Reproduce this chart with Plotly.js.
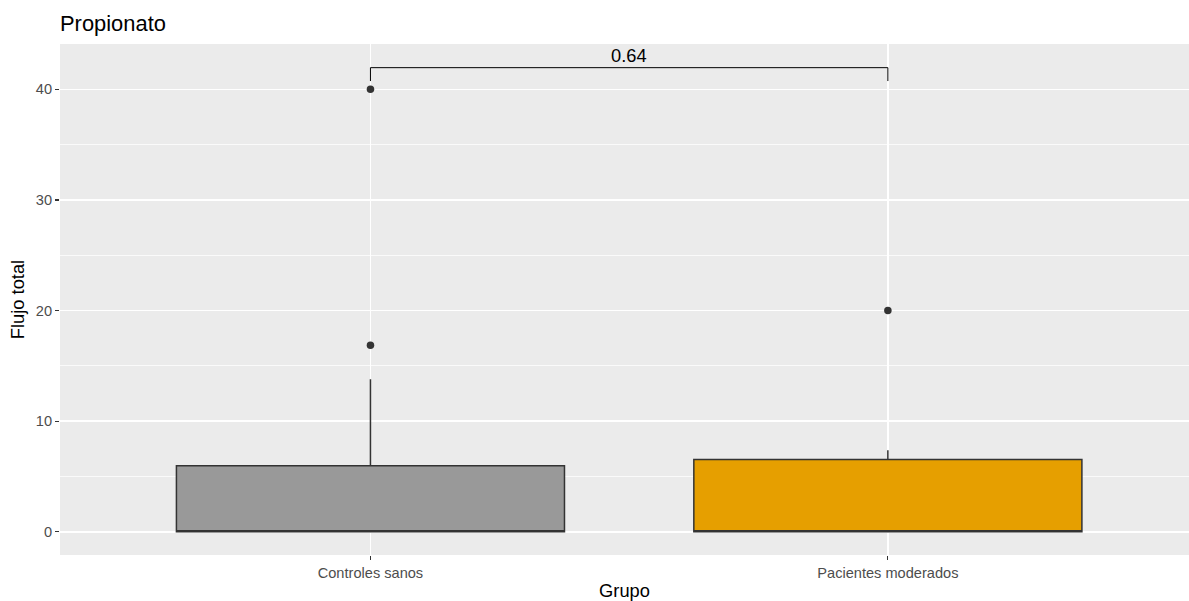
<!DOCTYPE html>
<html>
<head>
<meta charset="utf-8">
<script src="https://cdn.plot.ly/plotly-3.0.1.min.js"></script>
<style>
  html, body { margin: 0; padding: 0; background: #ffffff; }
  #chart { width: 1189px; height: 601px; }
</style>
</head>
<body>
<div id="chart"></div>
<script>
// Groups and their box-plot summaries (Flujo total de propionato)
const groups = ['Controles sanos', 'Pacientes moderados'];
const groupColors = ['#999999', '#E69F00'];
const q1Values = [0, 0];
const medianValues = [0, 0];
const q3Values = [5.96, 6.54];
const lowerWhisker = [0, 0];
const upperWhisker = [13.79, 7.38];

// Points beyond the whiskers
const outlierGroup = ['Controles sanos', 'Controles sanos', 'Pacientes moderados'];
const outlierValues = [16.87, 40, 20];

// Comparison bracket between the two groups
const bracketPair = ['Controles sanos', 'Pacientes moderados'];
const bracketTop = 41.96;
const bracketTip = 40.75;
const pValueLabel = '0.64';

const yTicks = [0, 10, 20, 30, 40];

const FONT = 'Liberation Sans, Arial, Helvetica, sans-serif';
const INK = '#333333';
const TICK_SIZE = 14.6;
const LABEL_SIZE = 18.3;

const traces = groups.map((g, i) => ({
  type: 'box',
  x: [g],
  q1: [q1Values[i]],
  median: [medianValues[i]],
  q3: [q3Values[i]],
  lowerfence: [lowerWhisker[i]],
  upperfence: [upperWhisker[i]],
  width: 0.75,
  whiskerwidth: 0,
  boxpoints: false,
  fillcolor: groupColors[i],
  line: { color: INK, width: 1.5 },
  hoverinfo: 'skip',
  showlegend: false
}));

traces.push({
  type: 'scatter',
  mode: 'markers',
  x: outlierGroup,
  y: outlierValues,
  marker: { color: INK, size: 7.5 },
  hoverinfo: 'skip',
  showlegend: false
});

traces.push({
  type: 'scatter',
  mode: 'lines',
  x: [bracketPair[0], bracketPair[0], bracketPair[1], bracketPair[1]],
  y: [bracketTip, bracketTop, bracketTop, bracketTip],
  line: { color: '#000000', width: 1 },
  hoverinfo: 'skip',
  showlegend: false,
  cliponaxis: false
});

const layout = {
  width: 1189,
  height: 601,
  margin: { l: 60, r: 0, t: 44, b: 46 },
  paper_bgcolor: '#ffffff',
  plot_bgcolor: '#EBEBEB',
  font: { family: FONT, color: '#000000' },
  title: {
    text: 'Propionato',
    font: { family: FONT, size: 21.9, color: '#000000' },
    x: 0, xref: 'paper', xanchor: 'left',
    y: 1 - 23 / 601, yref: 'container', yanchor: 'middle'
  },
  xaxis: {
    type: 'category',
    categoryorder: 'array',
    categoryarray: groups,
    range: [-0.6, 1.582],
    showgrid: true,
    gridcolor: '#ffffff',
    gridwidth: 1.5,
    zeroline: false,
    showline: false,
    ticks: 'outside',
    ticklen: 4,
    tickwidth: 1.1,
    tickcolor: INK,
    tickfont: { family: FONT, size: TICK_SIZE, color: '#4D4D4D' },
    title: { text: 'Grupo', font: { family: FONT, size: LABEL_SIZE, color: '#000000' }, standoff: 4 },
    fixedrange: true
  },
  yaxis: {
    range: [-2.1, 44.1],
    tickvals: yTicks,
    ticktext: yTicks.map(String),
    showgrid: true,
    gridcolor: '#ffffff',
    gridwidth: 1.5,
    minor: { dtick: 5, tick0: 0, showgrid: true, gridcolor: '#ffffff', gridwidth: 0.75, ticks: '' },
    zeroline: false,
    showline: false,
    ticks: 'outside',
    ticklen: 4,
    tickwidth: 1.1,
    tickcolor: INK,
    tickfont: { family: FONT, size: TICK_SIZE, color: '#4D4D4D' },
    title: { text: 'Flujo total', font: { family: FONT, size: LABEL_SIZE, color: '#000000' }, standoff: 6 },
    fixedrange: true
  },
  annotations: [{
    x: 0.5, xref: 'x',
    y: bracketTop, yref: 'y',
    text: pValueLabel,
    showarrow: false,
    yanchor: 'bottom',
    yshift: 0,
    font: { family: FONT, size: LABEL_SIZE, color: '#000000' }
  }]
};

Plotly.newPlot('chart', traces, layout, { staticPlot: true, displayModeBar: false });
</script>
</body>
</html>
